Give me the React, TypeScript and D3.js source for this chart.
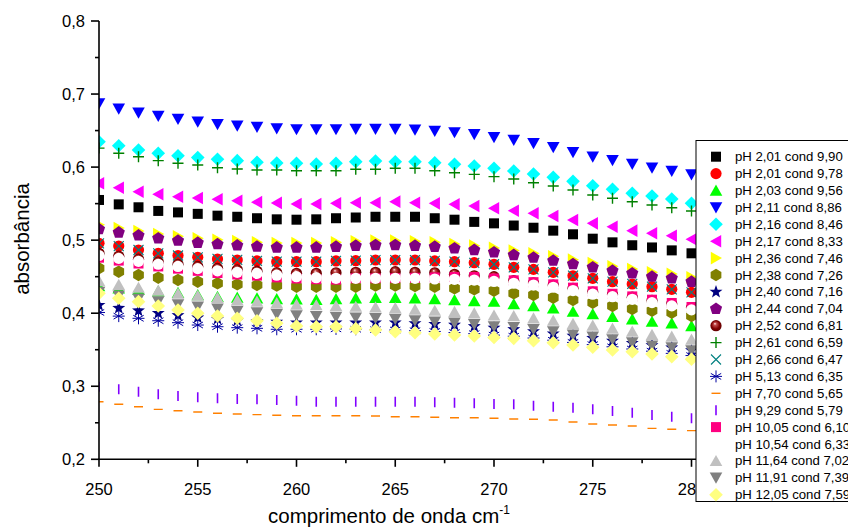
import React from "react";
import * as d3 from "d3";

// ---------- DATA ----------
const wavelengths = [250, 251, 252, 253, 254, 255, 256, 257, 258, 259, 260, 261, 262, 263, 264, 265, 266, 267, 268, 269, 270, 271, 272, 273, 274, 275, 276, 277, 278, 279, 280];

const seriesLabels = [
  "pH 2,01 cond 9,90", "pH 2,01 cond 9,78", "pH 2,03 cond 9,56", "pH 2,11 cond 8,86",
  "pH 2,16 cond 8,46", "pH 2,17 cond 8,33", "pH 2,36 cond 7,46", "pH 2,38 cond 7,26",
  "pH 2,40 cond 7,16", "pH 2,44 cond 7,04", "pH 2,52 cond 6,81", "pH 2,61 cond 6,59",
  "pH 2,66 cond 6,47", "pH 5,13 cond 6,35", "pH 7,70 cond 5,65", "pH 9,29 cond 5,79",
  "pH 10,05 cond 6,10", "pH 10,54 cond 6,33", "pH 11,64 cond 7,02", "pH 11,91 cond 7,39",
  "pH 12,05 cond 7,59",
];

const s01 = [0.555, 0.549, 0.545, 0.540, 0.538, 0.536, 0.5335, 0.532, 0.530, 0.5285, 0.528, 0.5285, 0.530, 0.531, 0.532, 0.532, 0.532, 0.530, 0.528, 0.525, 0.523, 0.520, 0.517, 0.513, 0.508, 0.502, 0.497, 0.493, 0.490, 0.486, 0.482];
const s02 = [0.4957, 0.492, 0.4865, 0.482, 0.479, 0.4765, 0.4742, 0.4728, 0.4715, 0.4705, 0.4705, 0.4705, 0.4715, 0.4719, 0.4728, 0.4728, 0.4728, 0.4715, 0.4705, 0.4691, 0.4669, 0.4628, 0.460, 0.456, 0.4513, 0.4478, 0.4431, 0.440, 0.4363, 0.4327, 0.4286];
const s03 = [0.437, 0.434, 0.432, 0.430, 0.428, 0.425, 0.4225, 0.4215, 0.4205, 0.4195, 0.419, 0.4185, 0.4194, 0.4204, 0.4212, 0.4212, 0.4204, 0.4194, 0.4181, 0.4167, 0.4158, 0.4126, 0.4099, 0.4067, 0.4021, 0.3989, 0.3952, 0.3916, 0.3884, 0.3862, 0.3825];
const s04 = [0.687, 0.680, 0.6745, 0.670, 0.666, 0.662, 0.6586, 0.6567, 0.655, 0.653, 0.6517, 0.6517, 0.6517, 0.6522, 0.6522, 0.6522, 0.6512, 0.6494, 0.6476, 0.6449, 0.6408, 0.6371, 0.6326, 0.6271, 0.6204, 0.6142, 0.6093, 0.6042, 0.5992, 0.5947, 0.590];
const s05 = [0.6348, 0.6293, 0.6234, 0.619, 0.6156, 0.613, 0.6107, 0.6088, 0.6066, 0.6056, 0.6052, 0.6042, 0.6052, 0.6074, 0.6083, 0.6074, 0.6074, 0.606, 0.6038, 0.6015, 0.5984, 0.5947, 0.5906, 0.586, 0.5805, 0.5745, 0.5696, 0.5641, 0.5604, 0.5563, 0.5505];
const s06 = [0.5778, 0.5718, 0.5663, 0.5628, 0.5595, 0.5577, 0.556, 0.554, 0.552, 0.551, 0.5495, 0.5495, 0.5504, 0.5513, 0.5513, 0.5527, 0.5513, 0.5504, 0.549, 0.5467, 0.5436, 0.5403, 0.5368, 0.533, 0.5276, 0.523, 0.5184, 0.513, 0.5094, 0.506, 0.5012];
const s07 = [0.521, 0.5165, 0.5125, 0.5085, 0.5053, 0.5025, 0.5005, 0.4988, 0.4972, 0.496, 0.496, 0.496, 0.497, 0.4984, 0.4993, 0.4993, 0.4984, 0.497, 0.4948, 0.4925, 0.4894, 0.4857, 0.482, 0.4779, 0.4733, 0.4688, 0.4642, 0.4606, 0.456, 0.4538, 0.4491];
const s08 = [0.4615, 0.4568, 0.4523, 0.4486, 0.4455, 0.4431, 0.4409, 0.4395, 0.4386, 0.4377, 0.4363, 0.4363, 0.4363, 0.4363, 0.4377, 0.4377, 0.4372, 0.4363, 0.4341, 0.4327, 0.4308, 0.4272, 0.4249, 0.4212, 0.4181, 0.4144, 0.4099, 0.4058, 0.4034, 0.4007, 0.3962];
const s09 = [0.411, 0.407, 0.4035, 0.400, 0.397, 0.394, 0.392, 0.390, 0.389, 0.388, 0.387, 0.387, 0.387, 0.387, 0.387, 0.387, 0.386, 0.385, 0.384, 0.382, 0.380, 0.378, 0.375, 0.372, 0.369, 0.366, 0.362, 0.359, 0.356, 0.353, 0.349];
const s10 = [0.515, 0.5105, 0.5065, 0.5025, 0.4993, 0.4965, 0.4945, 0.4928, 0.4912, 0.490, 0.490, 0.490, 0.491, 0.4924, 0.4933, 0.4933, 0.4924, 0.491, 0.4888, 0.4865, 0.4834, 0.4797, 0.476, 0.4719, 0.4673, 0.4628, 0.4582, 0.4546, 0.450, 0.4478, 0.4431];
const s11 = [0.482, 0.478, 0.474, 0.470, 0.467, 0.464, 0.4615, 0.4595, 0.4575, 0.4555, 0.4546, 0.4546, 0.4554, 0.456, 0.456, 0.4568, 0.456, 0.4554, 0.4533, 0.4513, 0.450, 0.4445, 0.4415, 0.4385, 0.434, 0.429, 0.4256, 0.422, 0.4175, 0.413, 0.4075];
const s12 = [0.626, 0.619, 0.6142, 0.6088, 0.6052, 0.6029, 0.5992, 0.5974, 0.596, 0.596, 0.595, 0.595, 0.595, 0.597, 0.597, 0.5984, 0.5984, 0.595, 0.5923, 0.5901, 0.5869, 0.5837, 0.5786, 0.5741, 0.5687, 0.5618, 0.5573, 0.5526, 0.5481, 0.5444, 0.540];
const s13 = [0.4955, 0.4918, 0.4865, 0.482, 0.479, 0.4765, 0.4745, 0.473, 0.4715, 0.4705, 0.4705, 0.4705, 0.4715, 0.472, 0.4728, 0.4728, 0.4728, 0.4715, 0.4705, 0.469, 0.467, 0.4628, 0.460, 0.456, 0.4513, 0.4478, 0.4431, 0.440, 0.4363, 0.4327, 0.4286];
const s14 = [0.401, 0.396, 0.393, 0.3897, 0.387, 0.3838, 0.3815, 0.3802, 0.3793, 0.378, 0.378, 0.378, 0.3785, 0.378, 0.3775, 0.377, 0.376, 0.375, 0.3735, 0.372, 0.370, 0.3685, 0.366, 0.363, 0.360, 0.357, 0.354, 0.351, 0.348, 0.345, 0.342];
const s15 = [0.2788, 0.2753, 0.272, 0.2684, 0.2665, 0.2647, 0.263, 0.262, 0.2611, 0.2602, 0.2597, 0.2597, 0.2597, 0.2597, 0.2593, 0.2583, 0.2583, 0.2575, 0.2569, 0.2569, 0.2561, 0.2552, 0.2548, 0.2538, 0.251, 0.2483, 0.247, 0.2456, 0.2424, 0.2411, 0.2392];
const s16 = [0.2994, 0.2958, 0.2925, 0.289, 0.2867, 0.2849, 0.2835, 0.2825, 0.2821, 0.2812, 0.2802, 0.2788, 0.2788, 0.2788, 0.2788, 0.2788, 0.2788, 0.2781, 0.2775, 0.2767, 0.2757, 0.2753, 0.2734, 0.272, 0.2707, 0.2684, 0.2661, 0.2638, 0.2606, 0.2583, 0.2561];
const s17 = [0.476, 0.472, 0.468, 0.464, 0.461, 0.458, 0.455, 0.453, 0.4515, 0.449, 0.4475, 0.4465, 0.446, 0.4478, 0.4478, 0.448, 0.4485, 0.449, 0.4495, 0.4495, 0.4475, 0.445, 0.4425, 0.4395, 0.435, 0.430, 0.4266, 0.423, 0.4185, 0.414, 0.4085];
const s18 = [0.479, 0.475, 0.471, 0.467, 0.464, 0.461, 0.458, 0.456, 0.4545, 0.452, 0.450, 0.4486, 0.4478, 0.4478, 0.4478, 0.4478, 0.4478, 0.4468, 0.4464, 0.4454, 0.4435, 0.441, 0.4385, 0.4355, 0.431, 0.426, 0.4226, 0.419, 0.4145, 0.410, 0.4045];
const s19 = [0.444, 0.439, 0.435, 0.431, 0.427, 0.424, 0.421, 0.418, 0.416, 0.414, 0.412, 0.411, 0.410, 0.409, 0.408, 0.407, 0.405, 0.4035, 0.402, 0.400, 0.397, 0.396, 0.393, 0.390, 0.3855, 0.383, 0.379, 0.375, 0.3705, 0.368, 0.364];
const s20 = [0.429, 0.424, 0.420, 0.416, 0.412, 0.409, 0.406, 0.403, 0.401, 0.399, 0.397, 0.396, 0.395, 0.394, 0.393, 0.392, 0.390, 0.3885, 0.387, 0.385, 0.382, 0.381, 0.378, 0.375, 0.3705, 0.368, 0.364, 0.360, 0.3555, 0.353, 0.349];
const s21 = [0.4272, 0.4204, 0.4158, 0.4099, 0.4044, 0.3999, 0.3962, 0.393, 0.3897, 0.3862, 0.3825, 0.3815, 0.3815, 0.379, 0.377, 0.3747, 0.3733, 0.3715, 0.3701, 0.3688, 0.3668, 0.3656, 0.3624, 0.3596, 0.3565, 0.3533, 0.3496, 0.3473, 0.3441, 0.3405, 0.3369];

const seriesValues = [s01, s02, s03, s04, s05, s06, s07, s08, s09, s10, s11, s12, s13, s14, s15, s16, s17, s18, s19, s20, s21];

const xTickValues = [250, 255, 260, 265, 270, 275, 280];
const xTickLabels = ["250", "255", "260", "265", "270", "275", "280"];
const xMinorTicks = [252.5, 257.5, 262.5, 267.5, 272.5, 277.5];
const yTickValues = [0.2, 0.3, 0.4, 0.5, 0.6, 0.7, 0.8];
const yTickLabels = ["0,2", "0,3", "0,4", "0,5", "0,6", "0,7", "0,8"];
const yMinorTicks = [0.25, 0.35, 0.45, 0.55, 0.65, 0.75];

// ---------- STYLES ----------
const symbols = [
  "square", "circle", "triUp", "triDown", "diamond", "triLeft", "triRight", "hexagon",
  "star", "pentagon", "sphere", "plus", "cross", "asterisk", "hbar", "vbar",
  "square", "circle", "triUp", "triDown", "diamond",
];
const colors = [
  "#000000", "#ff0000", "#00ff00", "#0000ff", "#00ffff", "#ff00ff", "#ffff00", "#808000",
  "#000080", "#800080", "#800000", "#008000", "#008080", "#0000a0", "#ff8000", "#8000ff",
  "#ff0080", "#ffffff", "#c0c0c0", "#808080", "#ffff80",
];

function polygon(n: number, r: number, rot: number) {
  const pts: string[] = [];
  for (let i = 0; i < n; i++) {
    const a = rot + (i * 2 * Math.PI) / n;
    pts.push(`${(r * Math.cos(a)).toFixed(2)},${(r * Math.sin(a)).toFixed(2)}`);
  }
  return "M" + pts.join("L") + "Z";
}

function starPath(ro: number, ri: number) {
  const pts: string[] = [];
  for (let i = 0; i < 10; i++) {
    const r = i % 2 === 0 ? ro : ri;
    const a = -Math.PI / 2 + (i * Math.PI) / 5;
    pts.push(`${(r * Math.cos(a)).toFixed(2)},${(r * Math.sin(a)).toFixed(2)}`);
  }
  return "M" + pts.join("L") + "Z";
}

function Marker({ type, color, cx, cy }: { type: string; color: string; cx: number; cy: number }) {
  const t = `translate(${cx},${cy})`;
  switch (type) {
    case "square":
      return <rect x={cx - 5} y={cy - 5} width={10} height={10} fill={color} />;
    case "circle":
      return <circle cx={cx} cy={cy} r={5.6} fill={color} />;
    case "sphere":
      return <circle cx={cx} cy={cy} r={5.6} fill="url(#ballGrad)" />;
    case "triUp":
      return <path transform={t} d="M0,-6L6.3,5.2L-6.3,5.2Z" fill={color} />;
    case "triDown":
      return <path transform={t} d="M0,6L6.3,-5.2L-6.3,-5.2Z" fill={color} />;
    case "triLeft":
      return <path transform={t} d="M-6,0L5.2,-6.3L5.2,6.3Z" fill={color} />;
    case "triRight":
      return <path transform={t} d="M6,0L-5.2,-6.3L-5.2,6.3Z" fill={color} />;
    case "diamond":
      return <path transform={t} d="M0,-6.8L6.8,0L0,6.8L-6.8,0Z" fill={color} />;
    case "hexagon":
      return <path transform={t} d={polygon(6, 6.2, -Math.PI / 2)} fill={color} />;
    case "pentagon":
      return <path transform={t} d={polygon(5, 6.4, -Math.PI / 2)} fill={color} />;
    case "star":
      return <path transform={t} d={starPath(6.8, 2.8)} fill={color} />;
    case "plus":
      return <path transform={t} d="M-5.5,0H5.5M0,-5.5V5.5" stroke={color} strokeWidth={1.4} fill="none" />;
    case "cross":
      return <path transform={t} d="M-5,-5L5,5M5,-5L-5,5" stroke={color} strokeWidth={1.1} fill="none" />;
    case "asterisk":
      return (
        <path
          transform={t}
          d="M0,-6V6M-5.2,-3L5.2,3M5.2,-3L-5.2,3M-6,0H6"
          stroke={color}
          strokeWidth={1}
          fill="none"
        />
      );
    case "hbar":
      return <path transform={t} d="M-4.5,0H4.5" stroke={color} strokeWidth={1.4} fill="none" />;
    case "vbar":
      return <path transform={t} d="M0,-5V5" stroke={color} strokeWidth={1.6} fill="none" />;
    default:
      return null;
  }
}

export default function App() {
  const W = 848;
  const H = 528;
  const x = d3.scaleLinear().domain([250, 280]).range([99, 691.5]);
  const y = d3.scaleLinear().domain([0.2, 0.8]).range([459.3, 21]);
  const x0 = x(250);
  const y0 = y(0.2);

  const legendX = 696;
  const legendY = 140.5;
  const legendRowStart = 156.7;
  const legendRowStep = 16.9;

  return (
    <svg
      width={W}
      height={H}
      style={{ position: "absolute", left: 0, top: 0, background: "#ffffff" }}
      fontFamily="'Liberation Sans', Arial, Helvetica, sans-serif"
    >
      <defs>
        <clipPath id="plotClip">
          <rect x={x0} y={0} width={W - x0} height={y0} />
        </clipPath>
        <radialGradient id="ballGrad" cx="0.5" cy="0.5" r="0.55" fx="0.4" fy="0.3">
          <stop offset="0%" stopColor="#ffe8e8" />
          <stop offset="25%" stopColor="#c04848" />
          <stop offset="65%" stopColor="#800000" />
          <stop offset="100%" stopColor="#5a0000" />
        </radialGradient>
      </defs>

      <rect x={0} y={0} width={W} height={H} fill="#ffffff" />

      {/* data */}
      <g clipPath="url(#plotClip)">
        {seriesValues.map((vals, si) => (
          <g key={si}>
            {vals.map((v, i) => (
              <Marker key={i} type={symbols[si]} color={colors[si]} cx={x(wavelengths[i])} cy={y(v)} />
            ))}
          </g>
        ))}
      </g>

      {/* axes */}
      <g stroke="#000" strokeWidth={1.6} fill="none">
        <line x1={x0} y1={y(0.8)} x2={x0} y2={y0 + 0.8} />
        <line x1={x0 - 0.8} y1={y0} x2={W} y2={y0} />
        {yTickValues.map((v) => (
          <line key={"ym" + v} x1={x0 - 8} x2={x0} y1={y(v)} y2={y(v)} />
        ))}
        {yMinorTicks.map((v) => (
          <line key={"yn" + v} x1={x0 - 4} x2={x0} y1={y(v)} y2={y(v)} />
        ))}
        {xTickValues.map((v) => (
          <line key={"xm" + v} x1={x(v)} x2={x(v)} y1={y0} y2={y0 + 7.5} />
        ))}
        {xMinorTicks.map((v) => (
          <line key={"xn" + v} x1={x(v)} x2={x(v)} y1={y0} y2={y0 + 4} />
        ))}
      </g>

      <g fontSize={16.5} fill="#000">
        {yTickValues.map((v, i) => (
          <text key={"yl" + v} x={x0 - 14} y={y(v)} textAnchor="end" dominantBaseline="central">
            {yTickLabels[i]}
          </text>
        ))}
        {xTickValues.map((v, i) => (
          <text key={"xl" + v} x={x(v)} y={494.5} textAnchor="middle">
            {xTickLabels[i]}
          </text>
        ))}
      </g>

      <text
        transform={`translate(28.5,239) rotate(-90)`}
        textAnchor="middle"
        fontSize={20.5}
        fill="#000"
      >
        absorbância
      </text>
      <text x={268} y={523} fontSize={20.5} fill="#000">
        comprimento de onda cm
        <tspan fontSize={12} dy={-9}>-1</tspan>
      </text>

      {/* legend */}
      <rect x={legendX} y={legendY} width={W - legendX + 10} height={361} fill="#ffffff" stroke="#000" strokeWidth={1} />
      {seriesLabels.map((lab, i) => {
        const cy = legendRowStart + i * legendRowStep;
        return (
          <g key={"lg" + i}>
            <Marker type={symbols[i]} color={colors[i]} cx={716} cy={cy} />
            <text x={735} y={cy} dominantBaseline="central" fontSize={13.2} fill="#000">
              {lab}
            </text>
          </g>
        );
      })}
    </svg>
  );
}
